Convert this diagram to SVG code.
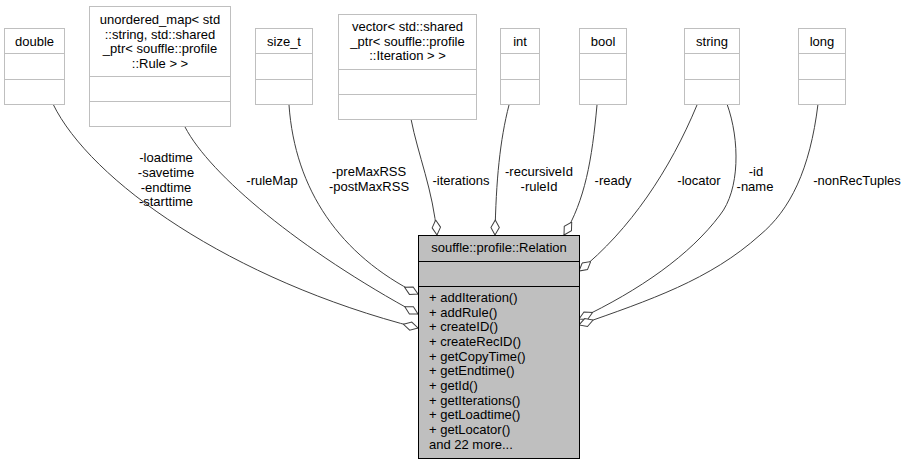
<svg xmlns="http://www.w3.org/2000/svg" width="908" height="464" viewBox="0 0 908 464">
<style>
text{font-family:"Liberation Sans",Arial,sans-serif;font-size:13px;fill:#000}
.c{text-anchor:middle}
.box{fill:#fff;stroke:#bfbfbf;stroke-width:1}
.main{fill:#bfbfbf;stroke:#000;stroke-width:1}
.edge{fill:none;stroke:#404040;stroke-width:1;marker-end:url(#od)}
</style>
<defs>
<marker id="od" viewBox="0 0 16 10" refX="15.5" refY="5" markerWidth="16" markerHeight="10" markerUnits="userSpaceOnUse" orient="auto">
<path d="M0.5,5 L8,0.8 L15.5,5 L8,9.2 Z" fill="#fff" stroke="#404040" stroke-width="1"/>
</marker>
</defs>
<rect width="908" height="464" fill="#fff"/>
<g id="connectors">
<path class="edge" d="M53,104 C90,180 230,280 418,328"/>
<path class="edge" d="M185,127 C210,175 300,250 418,314"/>
<path class="edge" d="M289,105 C295,190 340,255 418,294"/>
<path class="edge" d="M411,119 C418,155 433,190 437,235"/>
<path class="edge" d="M509,105 C500,140 496,180 495,235"/>
<path class="edge" d="M597,105 C592,160 585,200 564,235"/>
<path class="edge" d="M697,105 C670,170 630,230 579,271"/>
<path class="edge" d="M727,104 C740,140 740,190 720,215 C690,255 640,290 579,319"/>
<path class="edge" d="M818,104 C810,170 790,210 760,235 C710,280 650,300 579,325"/>
<text class="c" x="166" y="162">-loadtime</text>
<text class="c" x="166" y="177">-savetime</text>
<text class="c" x="166" y="191.5">-endtime</text>
<text class="c" x="166" y="206">-starttime</text>
<text class="c" x="272" y="185">-ruleMap</text>
<text class="c" x="369" y="176">-preMaxRSS</text>
<text class="c" x="369" y="191">-postMaxRSS</text>
<text class="c" x="461" y="185">-iterations</text>
<text class="c" x="539" y="176">-recursiveId</text>
<text class="c" x="539" y="191">-ruleId</text>
<text class="c" x="613" y="185">-ready</text>
<text class="c" x="699" y="185">-locator</text>
<text class="c" x="756" y="176">-id</text>
<text class="c" x="755" y="191">-name</text>
<text class="c" x="857" y="185">-nonRecTuples</text>
</g>
<g id="double">
<rect class="box" x="4.5" y="28.5" width="60" height="76"/>
<line class="box" x1="4.5" y1="53.5" x2="64.5" y2="53.5"/>
<line class="box" x1="4.5" y1="79.5" x2="64.5" y2="79.5"/>
<text class="c" x="34.5" y="45.5">double</text>
</g>
<g id="unordered_map">
<rect class="box" x="89.5" y="6.5" width="141" height="120"/>
<line class="box" x1="89.5" y1="76.5" x2="230.5" y2="76.5"/>
<line class="box" x1="89.5" y1="101.5" x2="230.5" y2="101.5"/>
<text class="c" x="160" y="24">unordered_map&lt; std</text>
<text class="c" x="160" y="38.7">::string, std::shared</text>
<text class="c" x="160" y="53.3">_ptr&lt; souffle::profile</text>
<text class="c" x="160" y="68">::Rule &gt; &gt;</text>
</g>
<g id="size_t">
<rect class="box" x="255.5" y="28.5" width="57" height="76"/>
<line class="box" x1="255.5" y1="53.5" x2="312.5" y2="53.5"/>
<line class="box" x1="255.5" y1="79.5" x2="312.5" y2="79.5"/>
<text class="c" x="284" y="45.5">size_t</text>
</g>
<g id="vector">
<rect class="box" x="338.5" y="14.5" width="138" height="105"/>
<line class="box" x1="338.5" y1="69.5" x2="476.5" y2="69.5"/>
<line class="box" x1="338.5" y1="94.5" x2="476.5" y2="94.5"/>
<text class="c" x="407.5" y="31">vector&lt; std::shared</text>
<text class="c" x="407.5" y="45.7">_ptr&lt; souffle::profile</text>
<text class="c" x="407.5" y="60.3">::Iteration &gt; &gt;</text>
</g>
<g id="int">
<rect class="box" x="500.5" y="28.5" width="39" height="76"/>
<line class="box" x1="500.5" y1="53.5" x2="539.5" y2="53.5"/>
<line class="box" x1="500.5" y1="79.5" x2="539.5" y2="79.5"/>
<text class="c" x="520" y="45.5">int</text>
</g>
<g id="bool">
<rect class="box" x="579.5" y="28.5" width="47" height="76"/>
<line class="box" x1="579.5" y1="53.5" x2="626.5" y2="53.5"/>
<line class="box" x1="579.5" y1="79.5" x2="626.5" y2="79.5"/>
<text class="c" x="603" y="45.5">bool</text>
</g>
<g id="string">
<rect class="box" x="684.5" y="28.5" width="55" height="76"/>
<line class="box" x1="684.5" y1="53.5" x2="739.5" y2="53.5"/>
<line class="box" x1="684.5" y1="79.5" x2="739.5" y2="79.5"/>
<text class="c" x="712" y="45.5">string</text>
</g>
<g id="long">
<rect class="box" x="798.5" y="28.5" width="47" height="76"/>
<line class="box" x1="798.5" y1="53.5" x2="845.5" y2="53.5"/>
<line class="box" x1="798.5" y1="79.5" x2="845.5" y2="79.5"/>
<text class="c" x="822" y="45.5">long</text>
</g>
<g id="Relation">
<rect class="main" x="418.5" y="235.5" width="161" height="223"/>
<line class="main" x1="418.5" y1="261.5" x2="579.5" y2="261.5"/>
<line class="main" x1="418.5" y1="286.5" x2="579.5" y2="286.5"/>
<text class="c" x="499" y="251.5">souffle::profile::Relation</text>
<text x="429" y="302">+ addIteration()</text>
<text x="429" y="316.7">+ addRule()</text>
<text x="429" y="331.3">+ createID()</text>
<text x="429" y="346">+ createRecID()</text>
<text x="429" y="360.7">+ getCopyTime()</text>
<text x="429" y="375.3">+ getEndtime()</text>
<text x="429" y="390">+ getId()</text>
<text x="429" y="404.7">+ getIterations()</text>
<text x="429" y="419.3">+ getLoadtime()</text>
<text x="429" y="434">+ getLocator()</text>
<text x="429" y="448.7">and 22 more...</text>
</g>
</svg>
